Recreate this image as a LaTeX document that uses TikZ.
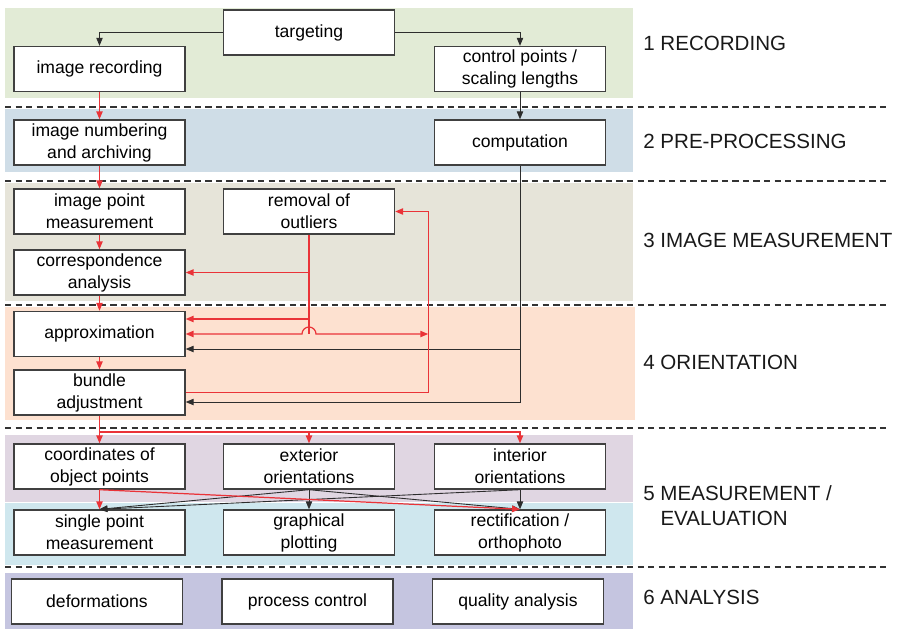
\documentclass[tikz,border=0pt]{standalone}
\usepackage{fontspec}
\setmainfont{Liberation Sans}
\usetikzlibrary{arrows.meta,calc}

\definecolor{bandrec}{RGB}{226,235,214}
\definecolor{bandpre}{RGB}{207,221,231}
\definecolor{bandimg}{RGB}{230,228,217}
\definecolor{bandori}{RGB}{253,225,208}
\definecolor{bandmea}{RGB}{224,214,226}
\definecolor{bandeva}{RGB}{207,231,238}
\definecolor{bandana}{RGB}{197,197,224}
\definecolor{flowred}{RGB}{234,51,56}
\definecolor{flowgray}{RGB}{45,45,45}

\begin{document}
\begin{tikzpicture}[x=0.02cm, y=-0.02cm,
    >={Triangle[length=4.5pt,width=3.6pt]},
    redflow/.style={draw=flowred, line width=0.7pt, ->},
    grayflow/.style={draw=flowgray, line width=0.5pt, ->}]

          \useasboundingbox (0,0) rectangle (899,629);

          % phase bands
          \fill[bandrec] (5,8)   rectangle (633,98);
          \fill[bandpre] (5,109) rectangle (633,172);
          \fill[bandimg] (5,183) rectangle (633,301);
          \fill[bandori] (5,307) rectangle (635,420);
          \fill[bandmea] (5,435) rectangle (633,502);
          \fill[bandeva] (5,503) rectangle (633,565);
          \fill[bandana] (5,573) rectangle (633,629);

          \foreach \y in {107,181,305,428,567}
            \draw[black!80, line width=0.6pt, dash pattern=on 3.6pt off 2.4pt] (5,\y) -- (890,\y);

          \begin{scope}[every node/.style={draw=black!75, fill=white, line width=0.8pt,
              minimum width=3.42cm, minimum height=0.9cm, inner sep=1pt, align=center,
              font=\fontsize{10}{12.5}\selectfont}]
            \node (1)  at (309,32.5)   {targeting};
            \node (2)  at (99.5,69)    {image recording};
            \node (3)  at (520,69)     {control points /\\scaling lengths};
            \node (4)  at (99.5,142.5) {image numbering\\and archiving};
            \node (5)  at (520,142.5)  {computation};
            \node (6)  at (99.5,211.5) {image point\\measurement};
            \node (7)  at (309,211.5)  {removal of\\outliers};
            \node (8)  at (99.5,272.5) {correspondence\\analysis};
            \node (9)  at (99.5,334)   {approximation};
            \node (10) at (99.5,392.5) {bundle\\adjustment};
            \node (11) at (99.5,466.5) {coordinates of\\object points};
            \node (12) at (309,466.5)  {exterior\\orientations};
            \node (13) at (520,466.5)  {interior\\orientations};
            \node (14) at (99.5,532.5) {single point\\measurement};
            \node (15) at (309,532.5)  {graphical\\plotting};
            \node (16) at (520,532.5)  {rectification /\\orthophoto};
            \node (17) at (97,601.5)   {deformations};
            \node (18) at (307.5,601.5) {process control};
            \node (19) at (518,601.5)  {quality analysis};
          \end{scope}

          % black connectors
          \draw[grayflow] (1.west) -| (2.north);
          \draw[grayflow] (1.east) -| (3.north);
          \draw[grayflow] (3) -- (5);
          \coordinate (a3) at ($(9.east)+(0,15)$);
          \coordinate (b2) at ($(10.east)+(0,9.5)$);
          \draw[grayflow] (5.south) |- (b2);
          \draw[grayflow] (5.south |- a3) -- (a3);
          \begin{scope}[every edge/.style={grayflow}]
            \path (12.south) edge (14.north) edge (15.north) edge (16.north);
            \path (13.south) edge (14.north) edge (16.north);
          \end{scope}

          % red connectors
          \begin{scope}[every edge/.style={redflow}]
            \path (2)  edge (4);
            \path (4)  edge (6);
            \path (6)  edge (8);
            \path (8)  edge (9);
            \path (9)  edge (10);
            \path (10) edge (11);
            \path (11.south) edge (14.north) edge (16.north);
          \end{scope}
          \coordinate (a1) at ($(9.east)+(0,-15)$);
          \draw[flowred, line width=0.7pt] (7.south) -- (7.south |- 9.east);
          \draw[redflow] (7.south |- a1) -- (a1);
          \draw[redflow] (7.south |- 8.east) -- (8.east);
          \coordinate (rbus) at ($(7.east)+(33,0)$);
          \draw[redflow] (10.east) -| (rbus) -- (7.east);
          \draw[redflow, <->] (9.east) -- ($(7.south |- 9.east)+(-7,0)$)
            arc[start angle=180, end angle=0, radius=3.98pt] -- (rbus |- 9.east);
          \coordinate (fork) at (99.5,432);
          \draw[redflow] (fork) -| (12.north);
          \draw[redflow] (fork) -| (13.north);

          % phase labels
          \begin{scope}[every node/.style={anchor=west, inner sep=0pt, align=left,
              text=black!90, font=\fontsize{11.7}{14.2}\selectfont}]
            \node (l1) at (643,43)    {1 RECORDING};
            \node (l2) at (643,141)   {2 PRE-PROCESSING};
            \node (l3) at (643,240)   {3 IMAGE MEASUREMENT};
            \node (l4) at (643,362)   {4 ORIENTATION};
            \node (l5) at (643,505.5) {5 MEASUREMENT /\\\phantom{5}\ EVALUATION};
            \node (l6) at (643,597)   {6 ANALYSIS};
          \end{scope}

        \end{tikzpicture}
\end{document}
